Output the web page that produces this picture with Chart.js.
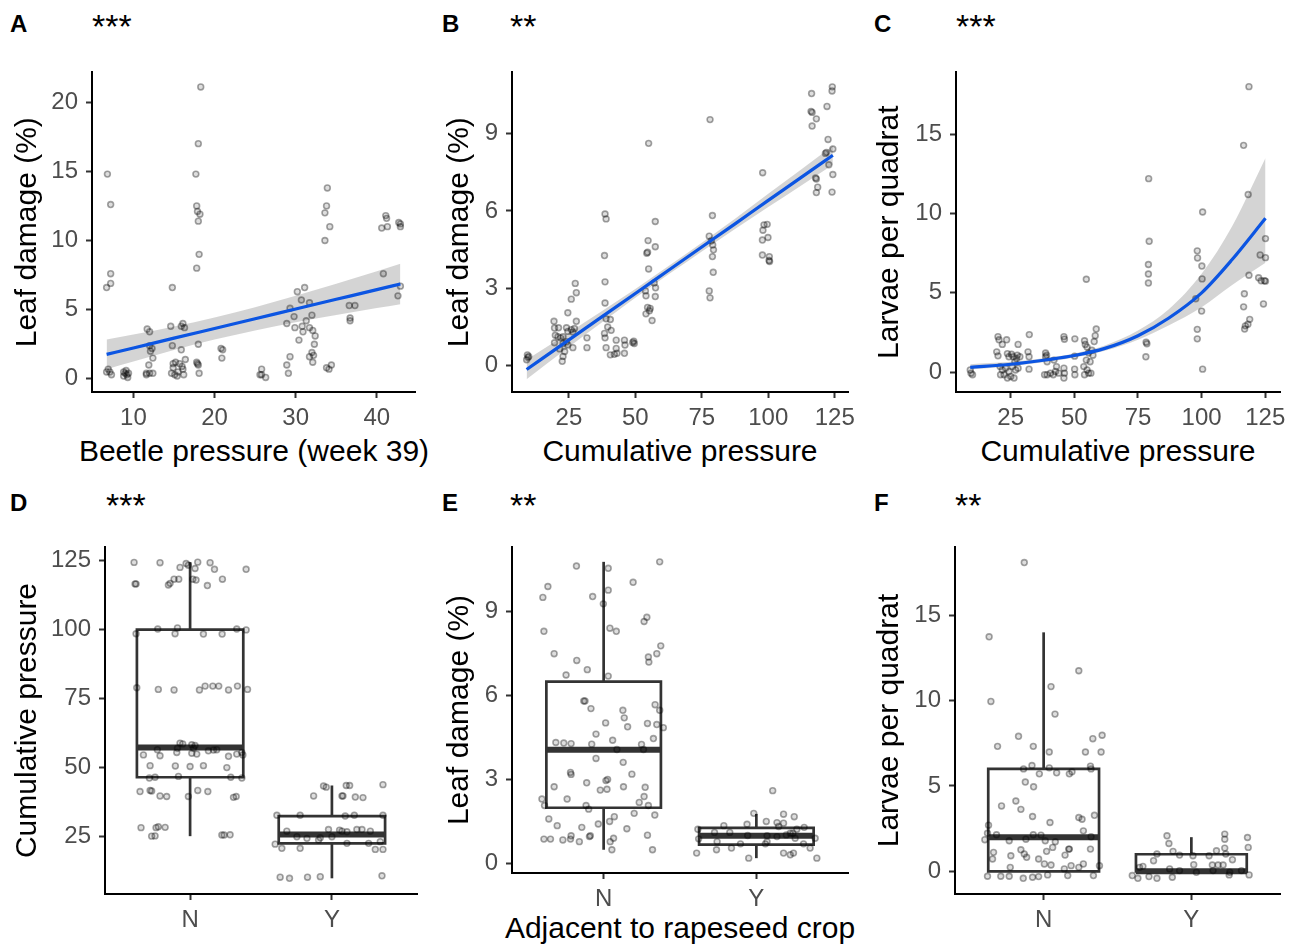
<!DOCTYPE html>
<html><head><meta charset="utf-8">
<script src="https://cdn.jsdelivr.net/npm/chart.js@4.4.1/dist/chart.umd.min.js"></script>
<style>
html,body{margin:0;padding:0;background:#fff;}
body{width:1297px;height:945px;position:relative;overflow:hidden;font-family:"Liberation Sans",Arial,sans-serif;}
canvas{position:absolute;}
.lab{position:absolute;line-height:1;white-space:nowrap;color:#000;font-family:"Liberation Sans",Arial,sans-serif;}
.let{font-weight:bold;font-size:24px;}
.ast{font-size:34px;}
.xt{font-size:30px;width:600px;text-align:center;}
</style></head><body>
<div class="lab let" style="left:10px;top:12px">A</div><div class="lab ast" style="left:92px;top:9px">***</div>
<div class="lab let" style="left:442px;top:12px">B</div><div class="lab ast" style="left:510px;top:9px">**</div>
<div class="lab let" style="left:874px;top:12px">C</div><div class="lab ast" style="left:956px;top:9px">***</div>
<div class="lab let" style="left:10px;top:491px">D</div><div class="lab ast" style="left:106px;top:488px">***</div>
<div class="lab let" style="left:442px;top:491px">E</div><div class="lab ast" style="left:510px;top:488px">**</div>
<div class="lab let" style="left:874px;top:491px">F</div><div class="lab ast" style="left:955px;top:488px">**</div>
<div class="lab xt" style="left:-46px;top:436px">Beetle pressure (week 39)</div>
<div class="lab xt" style="left:380px;top:436px">Cumulative pressure</div>
<div class="lab xt" style="left:818px;top:436px">Cumulative pressure</div>
<div class="lab xt" style="left:380px;top:913px">Adjacent to rapeseed crop</div>
<script>
// ---------- Panel A: Leaf damage vs beetle pressure (week 39) ----------
const aX = [18.3,18.0,6.8,17.7,7.2,33.9,17.8,17.9,18.2,18.0,33.8,33.6,34.2,33.6,41.1,41.2,41.3,40.6,42.7,42.9,42.9,18.1,17.8,7.2,7.2,6.7,14.8,40.8,42.9,42.6,30.2,31.1,30.7,31.7,29.3,32.0,29.8,28.9,31.3,29.9,30.8,31.7,30.9,32.1,32.4,30.4,32.3,32.0,31.7,32.2,32.1,36.6,37.3,36.7,36.7,28.9,29.1,29.3,33.8,34.1,34.4,25.8,25.8,26.3,25.6,20.8,21.0,20.9,11.7,12.0,12.0,12.3,12.4,12.1,14.6,14.8,15.9,16.1,16.3,15.9,18.0,6.7,7.1,7.3,6.9,8.8,9.0,9.2,9.3,8.8,9.4,9.1,11.6,12.0,12.4,11.9,11.6,14.9,15.2,15.7,16.4,14.7,15.1,15.5,16.1,16.2,14.9,16.0,15.4,17.8,18.0,18.1,17.9];
const aY = [21.1,17.0,14.8,14.8,12.6,13.8,12.5,12.1,11.9,11.4,12.5,12.0,11.0,10.0,11.8,11.6,11.0,10.9,11.3,11.2,11.0,9.0,8.0,7.6,6.9,6.6,6.6,7.6,6.7,6.0,6.3,6.6,5.7,5.5,5.1,4.6,4.5,4.0,4.2,3.7,3.8,3.7,3.4,3.5,3.1,2.8,2.5,1.9,1.6,1.7,1.2,5.3,5.3,4.4,4.2,1.0,0.4,1.6,0.8,0.7,1.0,0.7,0.3,0.1,0.3,2.2,2.1,1.5,3.6,3.4,2.4,2.2,1.5,2.0,3.8,2.4,3.8,4.0,3.7,2.1,2.5,0.5,0.5,0.3,0.7,0.5,0.4,0.3,0.1,0.2,0.4,0.6,0.4,0.4,0.4,1.0,0.3,1.1,1.2,1.1,1.4,0.4,0.3,0.5,0.7,0.3,0.8,0.9,0.2,1.2,1.0,0.4,1.1];
const aFitX = [6.7,10,15,20,25,30,35,40,42.9];
const aFit  = [1.77,2.23,2.94,3.64,4.34,5.05,5.75,6.45,6.86];
const aLo   = [0.70,1.26,2.09,2.84,3.50,4.09,4.62,5.12,5.40];
const aHi   = [2.84,3.20,3.79,4.44,5.18,6.01,6.88,7.78,8.32];
const aXTicks = [10,20,30,40];
const aYTicks = [0,5,10,15,20];

// ---------- Panel B: Leaf damage vs cumulative pressure ----------
const bX = [9.4,9.6,9.1,9.9,19.4,19.6,19.9,20.9,21.9,22.8,21.1,24.1,24.6,25.9,27.1,26.5,19.6,22.8,24.1,26.5,23.4,22.8,22.5,21.5,24.6,24.6,27.4,27.8,25.9,27.8,31.8,31.8,38.6,39.0,38.4,38.6,38.6,39.0,40.6,39.6,40.9,38.4,38.6,39.0,40.6,42.8,42.8,45.9,46.1,45.9,43.1,42.1,49.4,49.6,49.0,55.0,57.5,54.8,54.6,54.3,57.5,55.0,53.8,54.0,57.6,57.5,54.6,55.6,55.3,54.0,56.3,57.1,78.1,79.0,77.8,78.6,79.1,79.4,79.0,79.3,77.8,78.1,97.9,98.4,99.6,98.0,99.9,97.8,97.8,100.4,100.3,100.5,116.3,116.1,116.5,118.1,116.5,124.1,124.0,122.1,122.5,124.3,121.9,122.8,121.5,117.8,118.1,118.6,118.1,124.3,124.0];
const bY = [0.42,0.32,0.23,0.36,1.72,1.46,1.18,1.12,1.08,1.12,1.47,1.47,1.33,1.40,1.44,1.31,0.89,0.86,0.93,0.70,0.55,0.36,0.17,0.65,0.80,2.05,3.19,2.83,2.58,1.72,1.08,0.70,5.88,5.69,4.27,3.25,2.43,1.82,1.79,1.50,1.37,1.25,1.08,0.70,0.42,0.67,0.99,0.99,0.80,0.48,0.48,0.44,0.95,0.86,0.90,8.62,5.59,4.85,4.40,4.36,4.61,3.75,2.90,2.71,3.02,2.68,2.26,2.22,2.13,2.01,1.75,3.21,9.54,5.82,5.02,4.84,4.68,4.49,4.23,3.62,2.90,2.63,7.48,5.46,5.48,5.25,4.97,4.87,4.29,4.23,4.08,4.04,10.55,9.86,9.82,9.57,9.29,10.81,10.65,10.05,8.77,8.40,8.27,7.79,8.23,7.28,7.24,6.92,6.71,7.41,6.73];
const bFitX = [9.1,25,37.5,50,62.5,75,87.5,100,112,124.3];
const bFit  = [-0.15,1.00,1.90,2.80,3.70,4.60,5.50,6.41,7.27,8.16];
const bLo   = [-0.53,0.72,1.68,2.63,3.54,4.43,5.30,6.15,6.96,7.79];
const bHi   = [0.23,1.28,2.12,2.97,3.86,4.77,5.70,6.67,7.58,8.53];
const bXTicks = [25,50,75,100,125];
const bYTicks = [0,3,6,9];

// ---------- Panel C: Larvae per quadrat vs cumulative pressure ----------
const cX = [118.6,116.5,79.2,118.3,100.4,79.4,79.1,79.1,79.1,98.3,98.4,100.1,100.2,97.7,100.0,98.3,98.3,100.4,125.1,125.1,123.0,118.6,122.4,123.4,124.7,125.1,116.8,116.5,124.3,118.9,118.2,116.9,117.2,78.2,78.5,78.1,54.7,9.1,10.0,9.4,20.0,20.4,23.4,21.7,19.5,20.0,23.7,24.3,25.3,26.0,27.6,27.9,27.3,26.6,28.6,31.8,32.2,32.3,32.2,20.8,21.7,22.4,23.7,25.0,26.3,24.3,23.0,25.6,26.9,27.9,21.0,38.7,39.1,38.7,39.3,38.3,40.6,41.7,42.6,43.0,45.9,46.1,45.9,46.1,45.9,43.9,42.0,39.3,50.2,50.1,50.1,50.2,54.0,54.3,55.0,55.6,54.7,53.7,54.0,55.0,55.6,56.2,56.9,57.8,58.2,58.6,56.5,57.3];
const cY = [18.0,14.3,12.2,11.2,10.1,8.25,6.79,6.19,5.62,7.65,7.20,6.69,5.88,4.63,3.85,2.70,2.10,0.19,8.42,7.22,7.39,6.11,5.95,5.76,5.76,5.74,4.94,4.12,4.30,3.33,3.02,2.72,2.92,1.89,1.79,0.97,5.86,0.14,-0.16,-0.06,2.24,2.04,2.04,1.75,1.28,1.03,1.17,0.97,1.13,0.97,1.07,1.75,0.86,0.66,0.97,1.28,0.97,2.37,0.19,0.35,0.14,-0.16,-0.37,-0.27,-0.37,0.04,0.25,0.35,0.14,0.25,-0.16,1.21,1.07,0.97,-0.16,-0.16,-0.06,-0.16,0.04,0.35,2.24,2.08,0.25,-0.06,-0.37,-0.06,0.76,0.66,2.10,1.01,0.19,-0.16,1.98,1.75,1.58,1.21,0.76,0.35,-0.16,0.14,-0.06,0.66,1.38,1.93,2.30,2.72,-0.06,1.07];
const cFitX = [9.1,25,40,50,62,75,87,100,112,125.1];
const cFit  = [0.30,0.50,0.80,1.05,1.50,2.30,3.40,5.00,7.10,9.70];
const cLo   = [0.17,0.38,0.68,0.93,1.35,2.05,2.95,4.10,5.50,6.90];
const cHi   = [0.50,0.65,0.93,1.18,1.68,2.62,3.95,6.20,9.20,13.50];
const cXTicks = [25,50,75,100,125];
const cYTicks = [0,5,10,15];

// ---------- Boxplot panels: N / Y adjacent to rapeseed crop ----------
const groups = ['N','Y'];
const groupTicks = [1,2];

// D: cumulative pressure
const dX = [0.605,0.788,0.929,0.972,1.054,1.141,1.172,1.395,0.612,0.619,0.847,0.859,0.887,0.920,1.019,1.042,1.122,1.228,1.035,0.988,0.619,0.772,0.911,0.894,1.094,1.226,1.329,1.395,0.624,0.776,0.887,1.066,1.106,1.160,1.202,1.271,1.334,1.405,0.929,0.948,1.012,1.035,0.911,1.024,1.129,1.165,1.188,0.769,0.671,0.788,0.906,1.012,1.047,1.271,1.329,1.365,1.372,0.718,0.896,1.000,1.094,1.259,0.713,0.753,0.918,1.287,1.365,0.647,0.718,0.729,0.788,0.835,0.988,1.054,1.125,1.306,1.325,0.654,0.760,0.776,0.824,0.729,0.753,1.224,1.240,1.282,
  1.941,1.960,2.101,2.125,2.360,1.871,2.071,2.078,2.165,2.219,1.612,1.776,2.094,2.158,2.360,1.682,1.753,1.976,2.054,2.071,2.176,2.212,2.271,1.918,2.000,2.106,2.259,2.341,1.600,1.647,1.776,2.306,2.360,1.906,2.106,1.824,1.635,1.701,1.828,1.918,2.353];
const dY = [124.4,124.3,122.6,124.0,124.5,124.3,121.9,121.9,116.6,116.6,116.2,116.8,118.3,118.3,118.3,118.0,116.0,118.3,122.2,123.4,98.5,100.2,100.6,98.5,98.4,98.4,100.2,99.9,78.9,78.3,78.1,78.1,79.5,79.5,79.5,78.1,79.5,78.3,58.8,58.5,58.2,57.9,56.9,56.9,56.0,56.3,56.4,56.4,54.5,54.2,55.4,55.1,54.8,54.0,54.8,55.4,54.5,50.6,50.5,50.3,50.6,49.9,46.1,46.4,46.7,46.4,46.1,41.2,41.6,41.4,39.6,39.4,39.4,41.6,41.2,39.1,39.4,28.1,28.1,28.4,28.2,25.0,25.1,25.4,25.4,25.5,
  43.2,42.8,43.4,43.4,43.7,39.6,39.6,39.6,39.2,39.0,32.6,32.6,32.3,32.6,32.6,26.8,24.8,27.4,27.2,26.8,27.4,27.4,26.8,24.4,24.8,22.4,22.4,23.0,22.1,20.6,20.6,20.2,20.2,23.6,26.6,24.2,10.1,9.7,10.1,10.3,10.6];
const dQ1 = [46.4,22.4], dMed = [57.2,25.6], dQ3 = [100.0,32.3], dLo = [25.0,9.7], dHi = [124.5,43.4];
const dYTicks = [25,50,75,100,125];

// E: leaf damage
const eX = [0.822,1.030,1.367,0.635,0.602,0.928,1.030,0.998,1.193,0.609,1.041,1.083,1.265,1.283,0.676,0.824,0.893,0.754,1.030,1.293,1.296,1.348,1.374,0.870,0.878,0.917,1.126,1.337,1.367,1.135,1.013,1.287,1.348,1.391,1.157,0.950,0.687,0.739,0.787,0.922,1.059,1.248,1.326,1.087,1.261,0.950,1.128,0.783,0.787,1.185,0.889,1.026,1.015,1.022,0.978,0.676,1.130,1.272,0.761,0.596,0.613,0.885,0.902,1.233,1.265,1.293,0.641,0.696,0.857,0.965,1.039,1.070,1.152,1.200,1.335,0.609,0.652,0.733,0.783,0.787,0.841,0.907,0.913,1.043,1.065,1.054,1.287,1.320,
  2.107,1.983,2.178,2.248,2.065,1.939,2.135,2.178,1.787,1.617,1.726,1.826,2.313,2.146,2.222,2.265,1.943,2.070,2.135,2.196,2.239,2.385,1.896,2.059,2.070,2.254,2.309,1.743,1.609,1.739,1.837,2.178,2.222,2.243,2.352,1.950,2.396,1.622];
const eY = [10.63,10.55,10.78,9.90,9.51,9.54,9.77,9.28,10.05,8.30,8.41,8.30,8.65,8.80,7.50,7.26,6.93,6.74,6.70,7.38,7.20,7.50,7.78,5.81,5.81,5.54,5.48,5.68,5.48,5.21,5.03,5.01,4.97,4.86,4.89,4.63,4.33,4.31,4.29,4.27,4.41,4.26,4.47,4.08,4.08,3.76,3.62,3.26,3.19,3.20,2.89,3.01,2.97,2.66,2.63,2.75,2.75,2.73,2.31,2.31,2.08,2.08,1.95,2.19,2.40,2.08,1.60,1.36,1.30,1.42,1.51,1.68,1.25,1.80,1.74,0.88,0.88,0.85,0.88,1.00,0.79,0.97,1.00,0.79,0.91,0.50,1.02,0.50,
  2.61,1.80,1.77,1.68,1.51,1.41,1.47,1.45,1.36,1.23,1.12,1.12,1.30,1.33,1.09,1.23,1.01,1.00,0.97,1.03,1.09,0.91,0.71,0.71,0.79,0.91,0.71,0.79,0.38,0.50,0.56,0.38,0.32,0.38,0.56,0.20,0.20,0.89];
const eQ1 = [2.00,0.68], eMed = [4.07,1.00], eQ3 = [6.50,1.28], eLo = [0.50,0.20], eHi = [10.78,1.78];
const eYTicks = [0,3,6,9];

// F: larvae per quadrat
const fX = [0.869,0.631,1.238,1.050,0.643,1.077,0.830,0.688,0.930,1.396,1.333,1.283,1.389,1.038,0.864,0.921,0.971,1.038,1.088,1.174,1.192,1.317,1.321,0.876,0.932,0.812,0.715,0.846,0.925,1.043,1.238,1.260,1.344,1.269,0.627,0.620,0.602,0.681,0.767,0.880,0.930,0.982,1.011,1.079,1.321,0.661,0.654,0.778,0.846,0.869,0.885,1.020,1.061,1.170,1.174,1.145,1.317,0.774,0.966,1.005,1.050,1.140,1.186,1.238,1.269,1.378,0.620,0.710,0.767,0.862,0.925,0.966,1.027,1.163,1.337,
  1.835,1.848,2.226,2.226,2.380,2.385,1.876,1.767,1.920,2.011,2.120,2.170,2.226,2.233,1.744,2.016,2.142,2.181,2.215,2.278,1.672,1.853,2.034,2.147,2.260,2.339,1.600,1.638,1.713,1.767,1.871,2.256,2.391,1.649,1.920];
const fY = [18.09,13.74,11.75,10.82,9.95,9.21,7.91,7.32,7.32,7.97,7.77,6.99,6.99,6.99,6.00,6.20,5.71,6.06,5.77,5.71,5.83,6.16,6.00,5.23,4.95,4.12,3.83,3.63,3.21,2.86,3.15,3.05,3.28,2.37,2.70,2.23,1.85,2.14,1.79,1.88,2.14,2.12,1.79,1.73,2.02,1.11,0.72,0.91,1.26,1.01,0.82,1.17,1.40,1.30,1.30,0.95,1.30,0.23,0.72,0.43,0.37,0.14,0.33,0.23,0.43,0.33,-0.29,-0.29,-0.29,-0.41,-0.35,-0.31,-0.21,-0.25,-0.25,
  2.08,1.63,2.18,1.88,1.98,1.40,1.17,1.01,0.95,0.91,0.91,1.20,1.36,1.01,0.62,0.39,0.37,0.37,0.37,0.68,0.29,0.14,-0.06,0.04,-0.06,0.04,-0.25,-0.41,-0.31,-0.41,-0.35,-0.21,-0.21,0.23,0.04];
const fQ1 = [0,0], fMed = [2.0,0], fQ3 = [6.0,1.0], fLo = [0,0], fHi = [14.0,2.0];
const fYTicks = [0,5,10,15];

// ---------- drawing helpers ----------
const FONT = '"Liberation Sans", Arial, sans-serif';
Chart.defaults.font.family = FONT;
const PT_FILL = 'rgba(0,0,0,0.13)', PT_LINE = 'rgba(0,0,0,0.36)';
const FIT_COL = '#0c55e2', BAND_COL = 'rgba(153,153,153,0.42)', BOX_COL = '#333333';

function xy(xs, ys) { return xs.map((x, i) => ({x: x, y: ys[i]})); }
function pointsDs(xs, ys) {
  return {data: xy(xs, ys), showLine: false, pointRadius: 2.9, pointBorderWidth: 1.6,
    pointBackgroundColor: PT_FILL, pointBorderColor: PT_LINE, order: 0, clip: false};
}
function fitDs(fx, f, lo, hi) {
  return [
    {data: xy(fx, lo), showLine: true, pointRadius: 0, borderWidth: 0, borderColor: 'rgba(0,0,0,0)', fill: false, order: 2, cubicInterpolationMode: 'monotone'},
    {data: xy(fx, hi), showLine: true, pointRadius: 0, borderWidth: 0, borderColor: 'rgba(0,0,0,0)', fill: '-1', backgroundColor: BAND_COL, order: 2, cubicInterpolationMode: 'monotone'},
    {data: xy(fx, f), showLine: true, pointRadius: 0, borderWidth: 3.2, borderColor: FIT_COL, fill: false, order: -1, cubicInterpolationMode: 'monotone'}
  ];
}
function segDs(pts, w, cap) {
  return {data: pts.map(p => ({x: p[0], y: p[1]})), showLine: true, pointRadius: 0, borderColor: BOX_COL,
    borderWidth: w, fill: false, order: 1, borderJoinStyle: 'miter', borderCapStyle: cap || 'butt'};
}
function boxDs(q1, med, q3, lo, hi) {
  const out = [], hw = 0.375;
  groupTicks.forEach((c, i) => {
    out.push(segDs([[c-hw,q1[i]],[c+hw,q1[i]],[c+hw,q3[i]],[c-hw,q3[i]],[c-hw,q1[i]]], 2.7, 'square'));
    out.push(segDs([[c,q3[i]],[c,hi[i]]], 2.7));
    out.push(segDs([[c,lo[i]],[c,q1[i]]], 2.7));
    out.push(segDs([[c-hw,med[i]],[c+hw,med[i]]], 6));
  });
  return out;
}

function panel(p) {
  const cv = document.createElement('canvas');
  cv.width = p.w; cv.height = p.h;
  cv.style.left = p.x + 'px'; cv.style.top = p.y + 'px';
  document.body.appendChild(cv);
  const yW = p.area[0] - p.x, xH = p.y + p.h - p.area[3];
  const padTop = p.area[1] - p.y, padRight = p.x + p.w - p.area[2];
  const tickFont = {family: FONT, size: 24};
  const titleFont = {family: FONT, size: 30, lineHeight: 1};
  const gridOpt = {display: true, drawOnChartArea: false, drawTicks: true, tickLength: 6, tickWidth: 2, tickColor: '#333'};
  const borderOpt = {display: true, color: '#000', width: 2};
  new Chart(cv, {
    type: 'scatter',
    data: {datasets: p.datasets},
    options: {
      responsive: false, animation: false, events: [],
      layout: {padding: {left: 0, top: padTop, right: padRight, bottom: 0}},
      plugins: {legend: {display: false}, tooltip: {enabled: false}},
      scales: {
        x: {type: 'linear', position: 'bottom', min: p.xr[0], max: p.xr[1],
          afterBuildTicks: s => { s.ticks = p.xticks.map(v => ({value: v})); },
          afterFit: s => { s.height = xH; },
          ticks: {font: tickFont, color: '#4d4d4d', padding: 6, maxRotation: 0, autoSkip: false,
            callback: p.xlab || (v => String(v))},
          grid: gridOpt, border: borderOpt,
          title: {display: false}
        },
        y: {type: 'linear', position: 'left', min: p.yr[0], max: p.yr[1],
          afterBuildTicks: s => { s.ticks = p.yticks.map(v => ({value: v})); },
          afterFit: s => { s.width = yW; },
          ticks: {font: tickFont, color: '#4d4d4d', padding: 8, autoSkip: false, callback: v => String(v)},
          grid: gridOpt, border: borderOpt,
          title: {display: true, text: p.ytitle, font: titleFont, color: '#000',
            padding: {top: p.ytCenter - 15, bottom: 0}}
        }
      }
    }
  });
}
const grpLab = v => groups[v - 1] || '';

panel({x: 0, y: 50, w: 440, h: 420, area: [92, 67, 415, 392], xr: [4.9, 44.7], yr: [-0.95, 22.15],
  xticks: aXTicks, yticks: aYTicks, ytitle: 'Leaf damage (%)', ytCenter: 28,
  datasets: [pointsDs(aX, aY)].concat(fitDs(aFitX, aFit, aLo, aHi))});
panel({x: 430, y: 50, w: 440, h: 420, area: [512, 67, 848, 392], xr: [3.6, 130.0], yr: [-1.02, 11.37],
  xticks: bXTicks, yticks: bYTicks, ytitle: 'Leaf damage (%)', ytCenter: 30,
  datasets: [pointsDs(bX, bY)].concat(fitDs(bFitX, bFit, bLo, bHi))});
panel({x: 870, y: 50, w: 427, h: 420, area: [956, 67, 1280, 392], xr: [3.5, 130.8], yr: [-1.25, 18.9],
  xticks: cXTicks, yticks: cYTicks, ytitle: 'Larvae per quadrat', ytCenter: 20,
  datasets: [pointsDs(cX, cY)].concat(fitDs(cFitX, cFit, cLo, cHi))});
panel({x: 0, y: 490, w: 430, h: 455, area: [105, 547, 417, 894], xr: [0.4, 2.6], yr: [4.0, 130.0],
  xticks: groupTicks, yticks: dYTicks, xlab: grpLab, ytitle: 'Cumulative pressure', ytCenter: 28,
  datasets: [pointsDs(dX, dY)].concat(boxDs(dQ1, dMed, dQ3, dLo, dHi))});
panel({x: 430, y: 490, w: 440, h: 420, area: [512, 547, 848, 873], xr: [0.4, 2.6], yr: [-0.33, 11.31],
  xticks: groupTicks, yticks: eYTicks, xlab: grpLab, ytitle: 'Leaf damage (%)', ytCenter: 30,
  datasets: [pointsDs(eX, eY)].concat(boxDs(eQ1, eMed, eQ3, eLo, eHi))});
panel({x: 870, y: 490, w: 427, h: 455, area: [955, 547, 1280, 894], xr: [0.4, 2.6], yr: [-1.33, 19.0],
  xticks: groupTicks, yticks: fYTicks, xlab: grpLab, ytitle: 'Larvae per quadrat', ytCenter: 20,
  datasets: [pointsDs(fX, fY)].concat(boxDs(fQ1, fMed, fQ3, fLo, fHi))});
</script>
</body></html>
